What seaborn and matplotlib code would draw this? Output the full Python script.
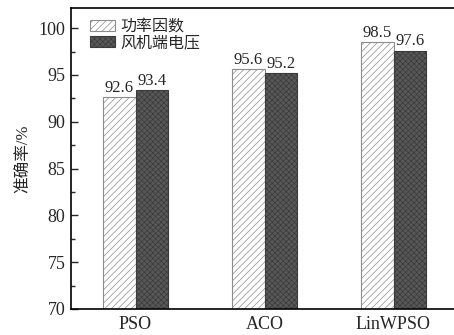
import matplotlib
matplotlib.use("Agg")
import matplotlib.pyplot as plt
from matplotlib.patches import Patch
from matplotlib.ticker import MultipleLocator
import seaborn as sns
import pandas as pd

methods = ["PSO", "ACO", "LinWPSO"]
series_names = ["功率因数", "风机端电压"]
power_factor = [92.6, 95.6, 98.5]
terminal_voltage = [93.4, 95.2, 97.6]

df = pd.DataFrame({
    "method": methods * 2,
    "series": [series_names[0]] * 3 + [series_names[1]] * 3,
    "value": power_factor + terminal_voltage,
})

sns.set_theme(style="ticks")
plt.rcParams["font.family"] = ["Liberation Serif", "Noto Sans CJK SC"]
plt.rcParams["hatch.linewidth"] = 0.5

fig = plt.figure(figsize=(4.54, 3.35), dpi=100)
ax = fig.add_axes([71 / 454, 26 / 335, 387 / 454, 301 / 335])

sns.barplot(data=df, x="method", y="value", hue="series", order=methods,
            hue_order=series_names, width=0.5, ax=ax, legend=False,
            saturation=1)

styles = [
    dict(facecolor="white", edgecolor="#8c8c8c", hatch="/////"),
    dict(facecolor="#585858", edgecolor="#3a3a3a", hatch="xxxxxx"),
]
for container, st in zip(ax.containers, styles):
    for bar in container:
        bar.set_facecolor(st["facecolor"])
        bar.set_edgecolor(st["edgecolor"])
        bar.set_hatch(st["hatch"])
        bar.set_linewidth(0.8)
    ax.bar_label(container, fmt="%.1f", padding=1, fontsize=12)

ax.set_xlim(-0.5, 2.5)
ax.set_ylim(70, 102.15)
ax.yaxis.set_major_locator(MultipleLocator(5))
ax.yaxis.set_minor_locator(MultipleLocator(2.5))
ax.tick_params(axis="y", which="major", direction="in", length=5, width=1,
               labelsize=13, right=False, pad=4)
ax.tick_params(axis="y", which="minor", direction="in", length=3, width=1)
ax.tick_params(axis="x", length=0, labelsize=13, pad=5)
ax.set_xlabel("")
ax.set_ylabel("准确率/%", fontsize=12, labelpad=5)

for side in ["left", "bottom", "top", "right"]:
    ax.spines[side].set_visible(True)
    ax.spines[side].set_linewidth(1.2)
    ax.spines[side].set_color("black")

handles = [Patch(**st, linewidth=0.8) for st in styles]
ax.legend(handles, series_names, loc="upper left", bbox_to_anchor=(0.02, 1.0),
          frameon=False, fontsize=11.5, handlelength=1.6, handleheight=0.7,
          handletextpad=0.3, labelspacing=0.0, borderaxespad=0.3)

fig.savefig("out.png", dpi=100)
